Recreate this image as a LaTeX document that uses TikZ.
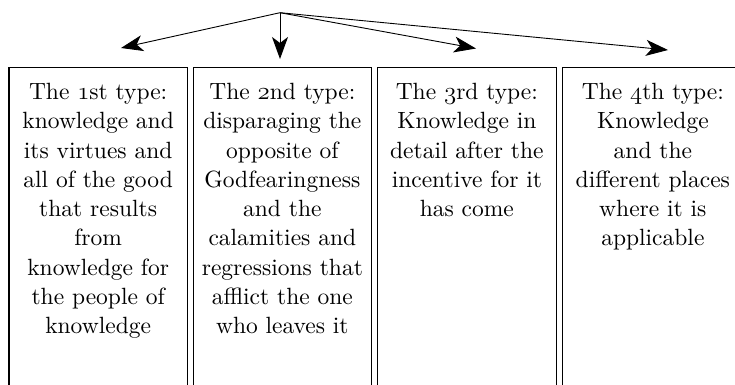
\documentclass[tikz,border=0pt]{standalone}
\usepackage{fontspec}
\setmainfont{lmroman10-regular.otf}
\usetikzlibrary{arrows.meta,calc}
% old-style figures for the ordinals
\newcommand\ordfig[1]{{\fontencoding{OML}\fontfamily{cmm}\fontseries{m}\fontshape{it}\selectfont #1}}
\begin{document}
\begin{tikzpicture}[x=1pt,y=-1pt,
  typebox/.style={draw, line width=1.2pt, rectangle, anchor=north west,
    minimum width=178.5pt, minimum height=340pt, inner sep=0pt},
  typetext/.style={anchor=north, align=center, inner sep=0pt,
    font=\fontsize{23.5}{29.25}\selectfont},
  branch/.style={line width=0.9pt, -{Stealth[length=22pt,width=16pt,inset=6pt]}}]
  \useasboundingbox (0,0) rectangle (735,384);
  \clip (0,0) rectangle (735,384);

  % the four boxes
  \node[typebox] (b1) at (8.3,67) {};
  \node[typebox] (b2) at (192.5,67) {};
  \node[typebox] (b3) at (377,67) {};
  \node[typebox] (b4) at (562,67) {};

  % their texts
  \node[typetext] (t1) at ($(b1.north)+(0,16)$) {The \ordfig{1}st type:\\knowledge and\\its virtues and\\all of the good\\that results\\from\\knowledge for\\the people of\\knowledge};
  \node[typetext] (t2) at ($(b2.north)+(0,16)$) {The \ordfig{2}nd type:\\disparaging the\\opposite of\\Godfearingness\\and the\\calamities and\\regressions that\\afflict the one\\who leaves it};
  \node[typetext] (t3) at ($(b3.north)+(0,16)$) {The \ordfig{3}rd type:\\Knowledge in\\detail after the\\incentive for it\\has come};
  \node[typetext] (t4) at ($(b4.north)+(1,16)$) {The \ordfig{4}th type:\\Knowledge\\and the\\different places\\where it is\\applicable};

  % branching arrows
  \coordinate (root) at (280,12.7);
  \coordinate (e1) at (121,48);
  \coordinate (e2) at (280,59);
  \coordinate (e3) at (476,48.5);
  \coordinate (e4) at (668,50);
  \foreach \e in {e1,e2,e3,e4}
    \draw[branch] (root) -- (\e);
\end{tikzpicture}
\end{document}
